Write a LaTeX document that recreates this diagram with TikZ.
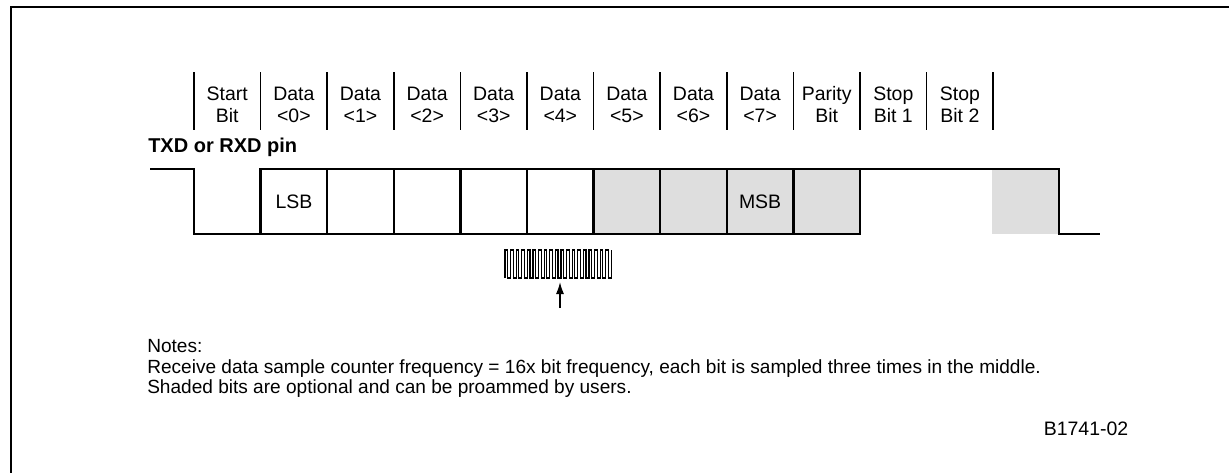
\documentclass[tikz,border=0pt]{standalone}
\usepackage{fontspec}
\setmainfont{Liberation Sans}
\usetikzlibrary{arrows.meta}
\definecolor{shadegray}{HTML}{DEDEDE}
\begin{document}
\begin{tikzpicture}[x=0.75pt,y=-0.75pt,
  lbl/.style={font=\fontsize{14.6}{16.5}\selectfont, inner sep=0pt, align=center},
  sep/.style={line width=1.1pt},
  wave/.style={line width=1.8pt},
  bitbox/.style={draw, line width=1.8pt, outer sep=0pt, minimum width=49.95pt, minimum height=48.75pt, inner sep=0pt, font=\fontsize{14.6}{16}\selectfont},
  shaded/.style={fill=shadegray},
  frame/.style={line width=2.2pt}
]
\useasboundingbox (0,0) rectangle (1229,472);
% frame (top and left edges visible)
\coordinate (fbl) at (11,490);
\coordinate (ftl) at (11,7);
\coordinate (ftr) at (1250,7);
\draw[frame] (fbl) -- (ftl) -- (ftr);
% header separators
\foreach \k in {0,...,12} {
  \draw[sep] (194+66.6*\k,72) -- (194+66.6*\k,130);
}
% header labels
\node[lbl] (h0) at (194+66.6*0.5,105) {Start\\Bit};
\node[lbl] (h1) at (194+66.6*1.5,105) {Data\\<0>};
\node[lbl] (h2) at (194+66.6*2.5,105) {Data\\<1>};
\node[lbl] (h3) at (194+66.6*3.5,105) {Data\\<2>};
\node[lbl] (h4) at (194+66.6*4.5,105) {Data\\<3>};
\node[lbl] (h5) at (194+66.6*5.5,105) {Data\\<4>};
\node[lbl] (h6) at (194+66.6*6.5,105) {Data\\<5>};
\node[lbl] (h7) at (194+66.6*7.5,105) {Data\\<6>};
\node[lbl] (h8) at (194+66.6*8.5,105) {Data\\<7>};
\node[lbl] (h9) at (194+66.6*9.5,105) {Parity\\Bit};
\node[lbl] (h10) at (194+66.6*10.5,105) {Stop\\Bit 1};
\node[lbl] (h11) at (194+66.6*11.5,105) {Stop\\Bit 2};
% pin label
\node[lbl, font=\fontsize{15}{17}\selectfont\bfseries, anchor=base west] (pin) at (148,152) {TXD or RXD pin};
% stop bit 2 optional shading
\fill[shadegray] (992,169) rectangle (1059,234);
% bit boxes
\node[bitbox] (b0) at (194+66.6*1.5,201.5) {LSB};
\node[bitbox] (b1) at (194+66.6*2.5,201.5) {};
\node[bitbox] (b2) at (194+66.6*3.5,201.5) {};
\node[bitbox] (b3) at (194+66.6*4.5,201.5) {};
\node[bitbox] (b4) at (194+66.6*5.5,201.5) {};
\node[bitbox, shaded] (b5) at (194+66.6*6.5,201.5) {};
\node[bitbox, shaded] (b6) at (194+66.6*7.5,201.5) {};
\node[bitbox, shaded] (b7) at (194+66.6*8.5,201.5) {MSB};
\node[bitbox, shaded] (b8) at (194+66.6*9.5,201.5) {};
% waveform
\coordinate (w0) at (150,169);
\coordinate (w1) at (194,169);
\coordinate (w2) at (194,234);
\coordinate (w3) at (1059,169);
\coordinate (w4) at (1059,234);
\coordinate (w5) at (1100,234);
\draw[wave] (w0) -- (w1) -- (w2) -- (b0.south west);
\draw[wave] (b8.north east) -- (w3) -- (w4) -- (w5);
% sample clock
\coordinate (ck) at (505,278);
\draw[line width=0.8pt] (ck) foreach \i in {0,...,18} { -- ++(0,-28) -- ++(2.6,0) -- ++(0,28) -- ++(3,0) } -- ++(0,-28);
\coordinate (atail) at (560,308);
\coordinate (ahead) at (560,282);
\draw[line width=1.1pt, -{Latex[length=9pt,width=6pt]}] (atail) -- (ahead);
% notes
\node[lbl, align=left, anchor=north west, font=\fontsize{14.3}{15.5}\selectfont] (notes) at (147,339) {Notes:\\Receive data sample counter frequency = 16x bit frequency, each bit is sampled three times in the middle.\\Shaded bits are optional and can be proammed by users.};
\node[lbl] (fig) at (1086,429) {B1741-02};
\end{tikzpicture}
\end{document}
